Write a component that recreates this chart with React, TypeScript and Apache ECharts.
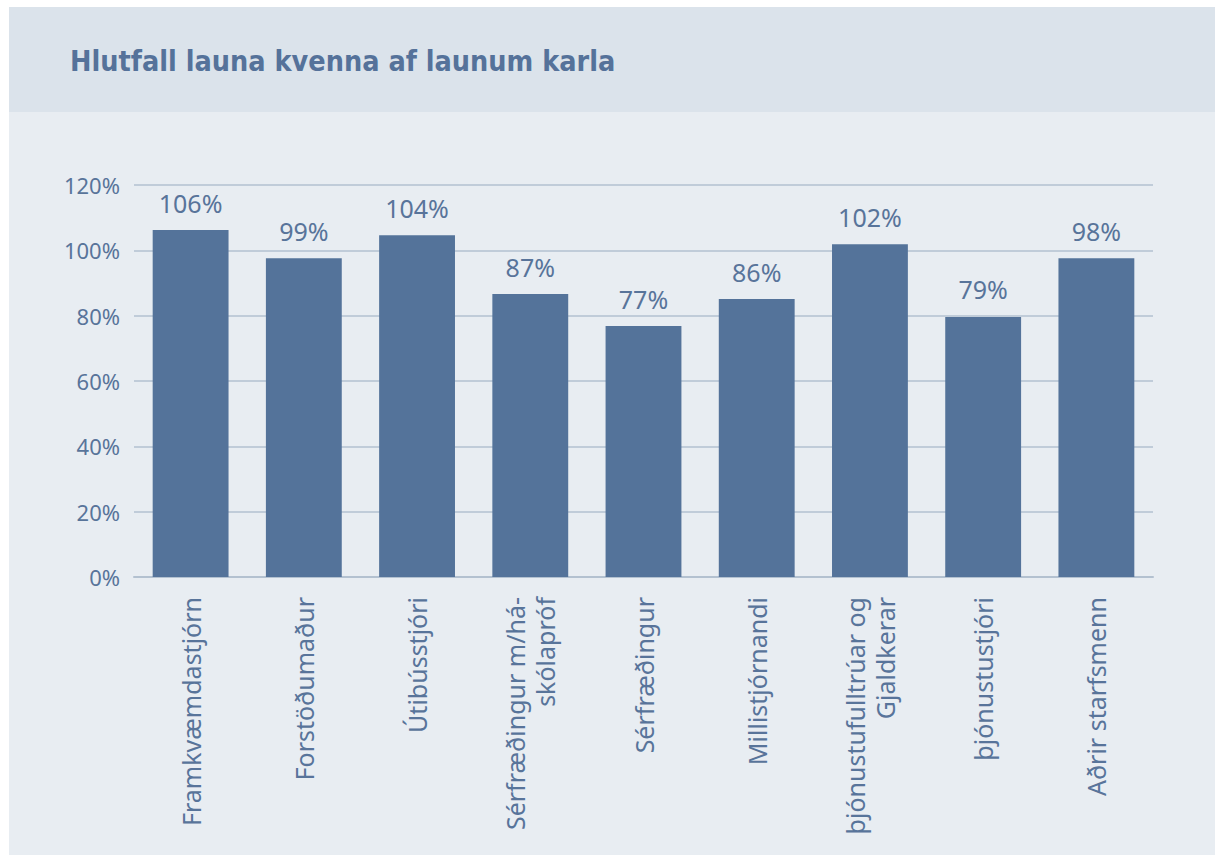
import React, { useEffect, useRef } from "react";
import * as echarts from "echarts";

const title = "Hlutfall launa kvenna af launum karla";
const categories = [
  "Framkvæmdastjórn",
  "Forstöðumaður",
  "Útibússtjóri",
  "Sérfræðingur m/há-\nskólapróf",
  "Sérfræðingur",
  "Millistjórnandi",
  "þjónustufulltrúar og\nGjaldkerar",
  "þjónustustjóri",
  "Aðrir starfsmenn",
];
const barValues = [106.2, 97.6, 104.6, 86.6, 76.8, 85.1, 101.9, 79.6, 97.6];
const barLabels = ["106%", "99%", "104%", "87%", "77%", "86%", "102%", "79%", "98%"];
const yTicks = { min: 0, max: 120, interval: 20 };

const TEXT = "#58749a";
const BAR = "#54739a";

export default function App() {
  const ref = useRef<HTMLDivElement>(null);
  useEffect(() => {
    document.body.style.margin = "0";
    const chart = echarts.init(ref.current!, undefined, { renderer: "svg" });
    chart.setOption({
      animation: false,
      backgroundColor: "#ffffff",
      graphic: [
        { type: "rect", shape: { x: 9, y: 7, width: 1206, height: 848 }, style: { fill: "#e8edf2" }, z: -10, silent: true },
        { type: "rect", shape: { x: 9, y: 7, width: 1206, height: 105 }, style: { fill: "#dbe3eb" }, z: -9, silent: true },
        {
          type: "text",
          x: 70,
          y: 61,
          style: {
            text: title,
            fill: "#55729a",
            font: "bold 28.5px 'DejaVu Sans Condensed', sans-serif",
            textVerticalAlign: "middle",
          },
        },
      ],
      grid: { left: 134, right: 62, top: 185, bottom: 279, containLabel: false },
      xAxis: {
        type: "category",
        data: categories,
        axisTick: { show: false },
        axisLine: { show: true, lineStyle: { color: "#b3c1d0", width: 2 } },
        axisLabel: {
          rotate: 90,
          margin: 20,
          color: TEXT,
          fontFamily: "Noto Sans",
          fontSize: 25,
          lineHeight: 30,
          interval: 0,
        },
      },
      yAxis: {
        type: "value",
        min: yTicks.min,
        max: yTicks.max,
        interval: yTicks.interval,
        axisLine: { show: false },
        axisTick: { show: false },
        splitLine: { lineStyle: { color: "#b3c1d0", width: 1.5 } },
        axisLabel: {
          formatter: "{value}%",
          margin: 14,
          color: TEXT,
          fontFamily: "Noto Sans",
          fontSize: 22,
        },
      },
      series: [
        {
          type: "bar",
          data: barValues,
          barCategoryGap: "33%",
          itemStyle: { color: BAR },
          label: {
            show: true,
            position: "top",
            distance: 15,
            color: TEXT,
            fontFamily: "Noto Sans",
            fontSize: 25,
            formatter: (p: any) => barLabels[p.dataIndex],
          },
        },
      ],
    });
    return () => chart.dispose();
  }, []);
  return <div ref={ref} style={{ width: 1215, height: 856 }} />;
}
